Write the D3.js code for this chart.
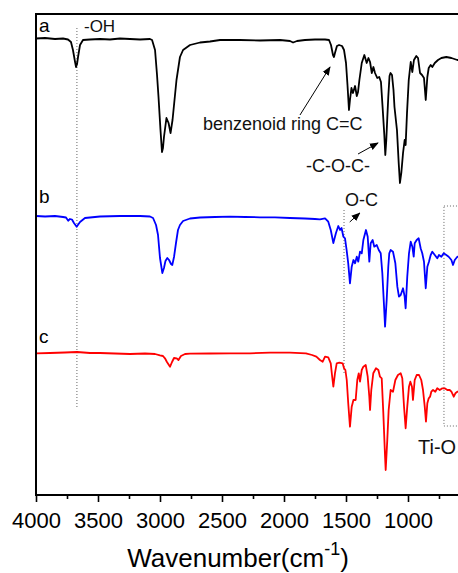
<!DOCTYPE html>
<html>
<head>
<meta charset="utf-8">
<script src="https://cdn.jsdelivr.net/npm/d3@7"></script>
<style>
  body { margin: 0; background: #fff; }
  svg { display: block; font-family: "Liberation Sans", Arial, sans-serif; }
</style>
</head>
<body>
<div id="area"></div>
<script>
// FTIR spectra, transmittance in arbitrary units (stacked)
var wavenumbers_a = [4000, 3927, 3847, 3782, 3742, 3718, 3702, 3685, 3677, 3669, 3661, 3645, 3621, 3565, 3484, 3403, 3323, 3242, 3161, 3081,
  3064, 3040, 3024, 3012, 2996, 2984, 2976, 2968, 2948, 2931, 2915, 2899, 2883, 2867, 2839, 2814, 2758, 2677, 2597, 2516,
  2355, 2194, 2032, 1952, 1927, 1895, 1831, 1750, 1669, 1637, 1621, 1605, 1597, 1589, 1573, 1556, 1532, 1516, 1500, 1488,
  1476, 1468, 1456, 1444, 1427, 1413, 1403, 1392, 1373, 1352, 1333, 1319, 1306, 1292, 1279, 1266, 1248, 1232, 1218, 1205,
  1191, 1183, 1175, 1167, 1159, 1149, 1141, 1129, 1117, 1109, 1089, 1075, 1065, 1054, 1040, 1027, 1019, 1008, 994, 978,
  965, 952, 933, 919, 903, 887, 871, 857, 844, 833, 817, 804, 784, 758, 731, 691, 650, 602, 570];
var values_a = [456.5, 457, 456, 456.5, 455.5, 453, 445, 433, 428, 431, 438, 450, 455, 455.5, 456, 455.5, 456.5, 456, 455.5, 456,
  455, 445, 420, 398, 365, 343, 347, 358, 377, 372, 362, 375, 395, 415, 438, 445, 450, 452.5, 453.5, 455,
  455, 454.5, 455, 454, 452.5, 454, 455, 455.5, 455.5, 455, 450, 440, 438, 442, 449, 450, 449, 445, 432, 410,
  385, 395, 407, 402, 409, 399, 403, 415, 432, 440, 432, 437, 433, 422, 428, 422, 417, 418, 413, 388,
  360, 340, 355, 377, 398, 419, 422, 420, 405, 388, 365, 332, 312, 322, 342, 355, 350, 382, 415, 433,
  423, 435, 439, 437, 422, 420, 417, 395, 418, 427, 430, 428, 432, 435, 437, 438, 437, 435, 435];

var wavenumbers_b = [4000, 3927, 3847, 3782, 3758, 3740, 3726, 3710, 3694, 3672, 3645, 3605, 3484, 3323, 3161, 3081, 3056, 3032, 3016, 3000,
  2981, 2968, 2956, 2941, 2927, 2911, 2901, 2887, 2871, 2855, 2839, 2814, 2758, 2677, 2556, 2435, 2314, 2194, 2073, 1952,
  1831, 1750, 1710, 1669, 1643, 1623, 1602, 1581, 1562, 1548, 1536, 1521, 1508, 1495, 1482, 1468, 1454, 1440, 1427, 1413,
  1401, 1387, 1373, 1360, 1339, 1325, 1312, 1301, 1285, 1272, 1252, 1236, 1220, 1207, 1193, 1185, 1172, 1159, 1151, 1140,
  1121, 1102, 1086, 1073, 1059, 1040, 1027, 1019, 1006, 992, 978, 965, 954, 946, 930, 914, 898, 885, 871, 857,
  844, 831, 817, 804, 784, 764, 750, 731, 712, 691, 672, 650, 637, 623, 602, 570];
var values_b = [279, 278.5, 279, 278, 277.5, 274.3, 276, 275.5, 272, 268.3, 273, 277, 278.5, 279, 279, 278.5, 277, 270, 260, 237,
  222, 227, 234, 237, 235, 231, 230, 238, 252, 265, 270, 274, 276.5, 277.5, 278, 278.3, 278, 277.7, 277.7, 277,
  276.5, 276, 275.7, 276.7, 273.3, 265, 252, 262, 269, 265, 267, 258.3, 256.7, 245, 231.7, 211.7, 228.3, 235, 231.7, 238.3,
  233.3, 243.3, 241.7, 255, 265, 258.3, 233.3, 251.7, 255, 248.3, 250, 245, 241.7, 221.7, 188.3, 168.3, 195, 228.3, 241.7, 245,
  243.3, 231.7, 208.3, 198.3, 200, 206.7, 198.3, 186.7, 218.3, 241.7, 253.3, 248.3, 238.3, 251.7, 255, 256.7, 246.7, 241.7, 233.3, 206.7,
  228.3, 233.3, 240, 243.3, 240, 236.7, 240, 238.3, 241.7, 240, 238.3, 235, 230, 235, 238.3, 237];

var wavenumbers_c = [4000, 3887, 3766, 3669, 3565, 3484, 3363, 3242, 3121, 3040, 3000, 2976, 2960, 2944, 2919, 2903, 2887, 2865, 2851, 2831,
  2798, 2758, 2597, 2435, 2274, 2113, 1952, 1823, 1774, 1739, 1710, 1688, 1669, 1643, 1623, 1613, 1602, 1589, 1575, 1554,
  1527, 1516, 1505, 1494, 1482, 1468, 1454, 1440, 1422, 1409, 1397, 1387, 1373, 1360, 1341, 1325, 1312, 1306, 1296, 1280,
  1258, 1239, 1226, 1212, 1199, 1185, 1180, 1167, 1156, 1140, 1121, 1102, 1081, 1059, 1046, 1032, 1019, 1006, 992, 981,
  968, 960, 946, 930, 911, 893, 879, 865, 855, 844, 833, 822, 812, 798, 780, 764, 744, 723, 704, 683,
  664, 650, 631, 618, 602, 570];
var values_c = [141.7, 142, 142.5, 143, 142, 142, 141.5, 141, 141.5, 141, 139.7, 139, 136.7, 133, 128.3, 133, 137, 136.7, 135, 139,
  141, 141.3, 141.5, 141.7, 141.7, 142.3, 142.3, 141.7, 140, 138.3, 135, 133.3, 138.3, 137.7, 131.7, 120, 108.3, 121.7, 131.7, 132.3,
  131.7, 126.7, 125, 115, 91.7, 68.3, 88.3, 95, 95, 115, 121.7, 113.3, 125, 128.3, 130, 118.3, 98.3, 85, 105, 121.7,
  126.7, 125, 118.3, 116.7, 81.7, 38.3, 25, 55, 85, 105, 103.3, 115, 120, 121.7, 116.7, 88.3, 66.7, 88.3, 108.3, 113.3,
  108.3, 95, 115, 120, 120, 115, 105, 88.3, 73.3, 91.7, 96.7, 98.3, 103.3, 105, 103.3, 106.7, 105, 106.7, 106.7, 105,
  105, 103.3, 98.3, 101.7, 103.3, 104];

var seriesNames = ['a', 'b', 'c'];
var seriesColors = ['#000000', '#0000ff', '#ff0000'];
var seriesLabelValues = [463, 292, 152];

var majorTicks = [4000, 3500, 3000, 2500, 2000, 1500, 1000];
var minorTicks = [3750, 3250, 2750, 2250, 1750, 1250, 750];

// peak markers: dotted guide lines [wavenumber, from, to]
var guideLines = [[3670, 467, 88], [1516, 285, 122]];
// dotted box around the Ti-O region [left, right, top, bottom]
var tiBox = [710, 420, 289, 69];

// annotation texts [text, wavenumber, value, size]
var notes = [
  ['-OH', 3613, 463, 17],
  ['benzenoid ring C=C', 2653, 365, 18],
  ['-C-O-C-', 1823, 323, 18],
  ['O-C', 1508, 289, 18],
  ['Ti-O', 919, 41, 20]
];
// arrows [fromW, fromV, toW, toV]
var arrows = [
  [1871, 380, 1629, 428],
  [1403, 341, 1242, 352],
  [1470, 273, 1389, 282]
];

var width = 458,
    height = 573,
    plotLeft = 36,
    plotTop = 14,
    plotBottom = 495;

var svg = d3.select('#area').append('svg')
    .attr('width', width)
    .attr('height', height);

svg.append('rect').attr('width', width).attr('height', height).attr('fill', '#fff');

// 62 px per 500 cm-1, range runs to 400 (past the right edge of the page)
var x = d3.scaleLinear().domain([4000, 400]).range([plotLeft, plotLeft + 3600 / 500 * 62]);
var y = d3.scaleLinear().domain([0, 481]).range([plotBottom, plotTop]);

var line = d3.line()
    .x(function(d) { return x(d[0]); })
    .y(function(d) { return y(d[1]); });

// guide lines under the curves
guideLines.forEach(function(g) {
  svg.append('line')
      .attr('x1', x(g[0])).attr('x2', x(g[0]))
      .attr('y1', y(g[1])).attr('y2', y(g[2]))
      .attr('stroke', '#666')
      .attr('stroke-width', 1)
      .attr('stroke-dasharray', '1,2');
});

svg.append('rect')
    .attr('x', x(tiBox[0]))
    .attr('y', y(tiBox[2]))
    .attr('width', x(tiBox[1]) - x(tiBox[0]))
    .attr('height', y(tiBox[3]) - y(tiBox[2]))
    .attr('fill', 'none')
    .attr('stroke', '#666')
    .attr('stroke-width', 1)
    .attr('stroke-dasharray', '1,2');

var allW = [wavenumbers_a, wavenumbers_b, wavenumbers_c];
var allV = [values_a, values_b, values_c];

for (var i = 0; i < 3; i++) {
  var pts = d3.zip(allW[i], allV[i]);
  svg.append('path')
      .datum(pts)
      .attr('d', line)
      .attr('fill', 'none')
      .attr('stroke', seriesColors[i])
      .attr('stroke-width', 1.8)
      .attr('stroke-linejoin', 'round');

  svg.append('text')
      .attr('x', x(3976))
      .attr('y', y(seriesLabelValues[i]))
      .attr('font-size', 19)
      .attr('fill', '#000')
      .text(seriesNames[i]);
}

// annotations
notes.forEach(function(n) {
  svg.append('text')
      .attr('x', x(n[1]))
      .attr('y', y(n[2]))
      .attr('font-size', n[3])
      .attr('fill', '#111')
      .text(n[0]);
});

var defs = svg.append('defs');
defs.append('marker')
    .attr('id', 'head')
    .attr('viewBox', '0 0 10 10')
    .attr('refX', 9)
    .attr('refY', 5)
    .attr('markerWidth', 9)
    .attr('markerHeight', 9)
    .attr('markerUnits', 'userSpaceOnUse')
    .attr('orient', 'auto')
  .append('path')
    .attr('d', 'M0,1 L10,5 L0,9 Z')
    .attr('fill', '#000');

arrows.forEach(function(a) {
  svg.append('line')
      .attr('x1', x(a[0])).attr('y1', y(a[1]))
      .attr('x2', x(a[2])).attr('y2', y(a[3]))
      .attr('stroke', '#000')
      .attr('stroke-width', 1)
      .attr('marker-end', 'url(#head)');
});

// frame
svg.append('rect')
    .attr('x', plotLeft)
    .attr('y', plotTop)
    .attr('width', x(400) - plotLeft)
    .attr('height', plotBottom - plotTop)
    .attr('fill', 'none')
    .attr('stroke', '#000')
    .attr('stroke-width', 2);

// x axis
var xAxis = d3.axisBottom(x)
    .tickValues(majorTicks)
    .tickSize(7)
    .tickSizeOuter(0)
    .tickFormat(d3.format('d'));

var gx = svg.append('g')
    .attr('transform', 'translate(0,' + plotBottom + ')')
    .call(xAxis);
gx.select('.domain').remove();
gx.selectAll('.tick line').attr('stroke', '#000').attr('stroke-width', 1.6);
gx.selectAll('.tick text')
    .attr('font-family', '"Liberation Sans", Arial, sans-serif')
    .attr('font-size', 22)
    .attr('fill', '#000')
    .attr('dy', 0)
    .attr('y', 33);

var gm = svg.append('g')
    .attr('transform', 'translate(0,' + plotBottom + ')')
    .call(d3.axisBottom(x).tickValues(minorTicks).tickSize(4).tickSizeOuter(0).tickFormat(''));
gm.select('.domain').remove();
gm.selectAll('.tick line').attr('stroke', '#000').attr('stroke-width', 1.6);

// axis title
var title = svg.append('text')
    .attr('x', 238)
    .attr('y', 567)
    .attr('text-anchor', 'middle')
    .attr('font-size', 26)
    .attr('fill', '#000');
title.append('tspan').text('Wavenumber(cm');
title.append('tspan').attr('font-size', 18).attr('dy', -12).text('-1');
title.append('tspan').attr('dy', 12).text(')');
</script>
</body>
</html>
